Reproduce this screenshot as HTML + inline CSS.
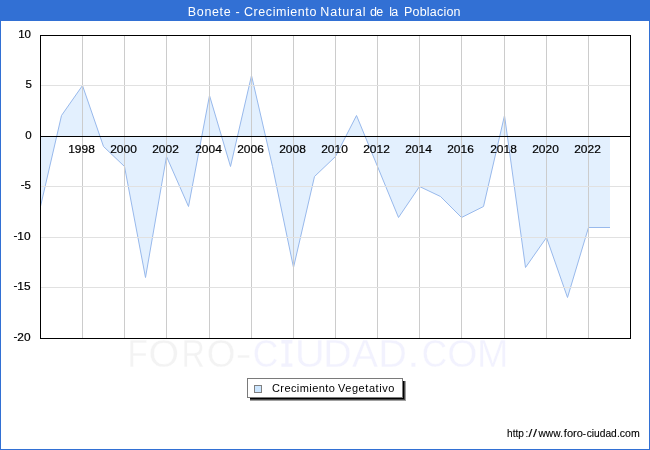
<!DOCTYPE html><html><head><meta charset="utf-8"><style>html,body{margin:0;padding:0;background:#fff;}svg{display:block;will-change:transform}</style></head><body>
<svg width="650" height="450" viewBox="0 0 650 450">
<rect x="0" y="0" width="650" height="450" fill="#fff"/>
<rect x="0" y="0" width="650" height="21" fill="#3270d4"/>
<rect x="0.5" y="0.5" width="649" height="449" fill="none" stroke="#3270d4" stroke-width="1"/>
<text x="187.79" y="16" font-family="Liberation Sans, sans-serif" font-size="12.5" fill="#fff" textLength="42.91" lengthAdjust="spacing">Bonete</text>
<text x="235.56" y="16" font-family="Liberation Sans, sans-serif" font-size="12.5" fill="#fff" textLength="4.77" lengthAdjust="spacing">-</text>
<text x="244.01" y="16" font-family="Liberation Sans, sans-serif" font-size="12.5" fill="#fff" textLength="72.36" lengthAdjust="spacing">Crecimiento</text>
<text x="320.35" y="16" font-family="Liberation Sans, sans-serif" font-size="12.5" fill="#fff" textLength="45.08" lengthAdjust="spacing">Natural</text>
<text x="369.9" y="16" font-family="Liberation Sans, sans-serif" font-size="12.5" fill="#fff" textLength="13.34" lengthAdjust="spacing">de</text>
<text x="389.34" y="16" font-family="Liberation Sans, sans-serif" font-size="12.5" fill="#fff" textLength="8.76" lengthAdjust="spacing">la</text>
<text x="403.94" y="16" font-family="Liberation Sans, sans-serif" font-size="12.5" fill="#fff" textLength="56.59" lengthAdjust="spacing">Poblacion</text>
<polygon points="40.50,136.50 40.50,206.50 61.50,115.50 82.50,85.50 103.50,146.50 124.50,166.50 145.50,277.50 166.50,156.50 188.50,206.50 209.50,95.50 230.50,166.50 251.50,75.50 272.50,166.50 293.50,267.50 314.50,176.50 335.50,156.50 356.50,115.50 377.50,166.50 398.50,217.50 419.50,186.50 440.50,196.50 461.50,217.50 483.50,206.50 504.50,115.50 525.50,267.50 546.50,237.50 567.50,297.50 588.50,227.50 610.00,227.50 610.00,136.50" fill="#e3f0fe" fill-opacity="1.0" stroke="none"/>
<polyline points="40.50,206.50 61.50,115.50 82.50,85.50 103.50,146.50 124.50,166.50 145.50,277.50 166.50,156.50 188.50,206.50 209.50,95.50 230.50,166.50 251.50,75.50 272.50,166.50 293.50,267.50 314.50,176.50 335.50,156.50 356.50,115.50 377.50,166.50 398.50,217.50 419.50,186.50 440.50,196.50 461.50,217.50 483.50,206.50 504.50,115.50 525.50,267.50 546.50,237.50 567.50,297.50 588.50,227.50 609.50,227.50" fill="none" stroke="#98b9ec" stroke-width="1" stroke-linejoin="round" stroke-linecap="square"/>
<line x1="82.5" y1="35" x2="82.5" y2="338" stroke="#cccccc" stroke-opacity="1.0" stroke-width="1"/>
<line x1="124.5" y1="35" x2="124.5" y2="338" stroke="#cccccc" stroke-opacity="1.0" stroke-width="1"/>
<line x1="166.5" y1="35" x2="166.5" y2="338" stroke="#cccccc" stroke-opacity="1.0" stroke-width="1"/>
<line x1="209.5" y1="35" x2="209.5" y2="338" stroke="#cccccc" stroke-opacity="1.0" stroke-width="1"/>
<line x1="251.5" y1="35" x2="251.5" y2="338" stroke="#cccccc" stroke-opacity="1.0" stroke-width="1"/>
<line x1="293.5" y1="35" x2="293.5" y2="338" stroke="#cccccc" stroke-opacity="1.0" stroke-width="1"/>
<line x1="335.5" y1="35" x2="335.5" y2="338" stroke="#cccccc" stroke-opacity="1.0" stroke-width="1"/>
<line x1="377.5" y1="35" x2="377.5" y2="338" stroke="#cccccc" stroke-opacity="1.0" stroke-width="1"/>
<line x1="419.5" y1="35" x2="419.5" y2="338" stroke="#cccccc" stroke-opacity="1.0" stroke-width="1"/>
<line x1="461.5" y1="35" x2="461.5" y2="338" stroke="#cccccc" stroke-opacity="1.0" stroke-width="1"/>
<line x1="504.5" y1="35" x2="504.5" y2="338" stroke="#cccccc" stroke-opacity="1.0" stroke-width="1"/>
<line x1="546.5" y1="35" x2="546.5" y2="338" stroke="#cccccc" stroke-opacity="1.0" stroke-width="1"/>
<line x1="588.5" y1="35" x2="588.5" y2="338" stroke="#cccccc" stroke-opacity="1.0" stroke-width="1"/>
<line x1="40" y1="85.5" x2="630" y2="85.5" stroke="#e1e1e1" stroke-opacity="1.0" stroke-width="1"/>
<line x1="40" y1="186.5" x2="630" y2="186.5" stroke="#e1e1e1" stroke-opacity="1.0" stroke-width="1"/>
<line x1="40" y1="237.5" x2="630" y2="237.5" stroke="#e1e1e1" stroke-opacity="1.0" stroke-width="1"/>
<line x1="40" y1="287.5" x2="630" y2="287.5" stroke="#e1e1e1" stroke-opacity="1.0" stroke-width="1"/>
<line x1="40" y1="136.5" x2="631" y2="136.5" stroke="#000" stroke-width="1"/>
<rect x="40.5" y="35.5" width="590" height="303" fill="none" stroke="#000" stroke-width="1"/>
<text x="31" y="37.5" font-family="Liberation Sans, sans-serif" font-size="11.5" fill="#000" stroke="#000" stroke-width="0.2" text-anchor="end">10</text>
<text x="32" y="87.5" font-family="Liberation Sans, sans-serif" font-size="11.5" fill="#000" stroke="#000" stroke-width="0.2" text-anchor="end">5</text>
<text x="31.7" y="138.5" font-family="Liberation Sans, sans-serif" font-size="11.5" fill="#000" stroke="#000" stroke-width="0.2" text-anchor="end">0</text>
<text x="31" y="188.5" font-family="Liberation Sans, sans-serif" font-size="11.5" fill="#000" stroke="#000" stroke-width="0.2" text-anchor="end"><tspan dy="-1">-</tspan><tspan dy="1">5</tspan></text>
<text x="30.6" y="239.5" font-family="Liberation Sans, sans-serif" font-size="11.5" fill="#000" stroke="#000" stroke-width="0.2" text-anchor="end" textLength="17.2" lengthAdjust="spacingAndGlyphs"><tspan dy="-1">-</tspan><tspan dy="1">10</tspan></text>
<text x="30.6" y="289.5" font-family="Liberation Sans, sans-serif" font-size="11.5" fill="#000" stroke="#000" stroke-width="0.2" text-anchor="end" textLength="17.2" lengthAdjust="spacingAndGlyphs"><tspan dy="-1">-</tspan><tspan dy="1">15</tspan></text>
<text x="30.6" y="340.5" font-family="Liberation Sans, sans-serif" font-size="11.5" fill="#000" stroke="#000" stroke-width="0.2" text-anchor="end" textLength="17.2" lengthAdjust="spacingAndGlyphs"><tspan dy="-1">-</tspan><tspan dy="1">20</tspan></text>
<text x="81.50" y="153" font-family="Liberation Sans, sans-serif" font-size="11.5" fill="#000" stroke="#000" stroke-width="0.2" text-anchor="middle" textLength="26.6" lengthAdjust="spacingAndGlyphs">1998</text>
<text x="123.50" y="153" font-family="Liberation Sans, sans-serif" font-size="11.5" fill="#000" stroke="#000" stroke-width="0.2" text-anchor="middle" textLength="26.6" lengthAdjust="spacingAndGlyphs">2000</text>
<text x="165.50" y="153" font-family="Liberation Sans, sans-serif" font-size="11.5" fill="#000" stroke="#000" stroke-width="0.2" text-anchor="middle" textLength="26.6" lengthAdjust="spacingAndGlyphs">2002</text>
<text x="208.50" y="153" font-family="Liberation Sans, sans-serif" font-size="11.5" fill="#000" stroke="#000" stroke-width="0.2" text-anchor="middle" textLength="26.6" lengthAdjust="spacingAndGlyphs">2004</text>
<text x="250.50" y="153" font-family="Liberation Sans, sans-serif" font-size="11.5" fill="#000" stroke="#000" stroke-width="0.2" text-anchor="middle" textLength="26.6" lengthAdjust="spacingAndGlyphs">2006</text>
<text x="292.50" y="153" font-family="Liberation Sans, sans-serif" font-size="11.5" fill="#000" stroke="#000" stroke-width="0.2" text-anchor="middle" textLength="26.6" lengthAdjust="spacingAndGlyphs">2008</text>
<text x="334.50" y="153" font-family="Liberation Sans, sans-serif" font-size="11.5" fill="#000" stroke="#000" stroke-width="0.2" text-anchor="middle" textLength="26.6" lengthAdjust="spacingAndGlyphs">2010</text>
<text x="376.50" y="153" font-family="Liberation Sans, sans-serif" font-size="11.5" fill="#000" stroke="#000" stroke-width="0.2" text-anchor="middle" textLength="26.6" lengthAdjust="spacingAndGlyphs">2012</text>
<text x="418.50" y="153" font-family="Liberation Sans, sans-serif" font-size="11.5" fill="#000" stroke="#000" stroke-width="0.2" text-anchor="middle" textLength="26.6" lengthAdjust="spacingAndGlyphs">2014</text>
<text x="460.50" y="153" font-family="Liberation Sans, sans-serif" font-size="11.5" fill="#000" stroke="#000" stroke-width="0.2" text-anchor="middle" textLength="26.6" lengthAdjust="spacingAndGlyphs">2016</text>
<text x="503.50" y="153" font-family="Liberation Sans, sans-serif" font-size="11.5" fill="#000" stroke="#000" stroke-width="0.2" text-anchor="middle" textLength="26.6" lengthAdjust="spacingAndGlyphs">2018</text>
<text x="545.50" y="153" font-family="Liberation Sans, sans-serif" font-size="11.5" fill="#000" stroke="#000" stroke-width="0.2" text-anchor="middle" textLength="26.6" lengthAdjust="spacingAndGlyphs">2020</text>
<text x="587.50" y="153" font-family="Liberation Sans, sans-serif" font-size="11.5" fill="#000" stroke="#000" stroke-width="0.2" text-anchor="middle" textLength="26.6" lengthAdjust="spacingAndGlyphs">2022</text>
<text x="127.58" y="366.8" font-family="Liberation Sans, sans-serif" font-size="38.5" fill="#f3f3f3" stroke="#fff" stroke-width="0.35" textLength="20.25" lengthAdjust="spacingAndGlyphs">F</text>
<text x="148.43" y="366.8" font-family="Liberation Sans, sans-serif" font-size="38.5" fill="#f3f3f3" stroke="#fff" stroke-width="0.35" textLength="30.65" lengthAdjust="spacingAndGlyphs">O</text>
<text x="181.55" y="366.8" font-family="Liberation Sans, sans-serif" font-size="38.5" fill="#f3f3f3" stroke="#fff" stroke-width="0.35" textLength="23.35" lengthAdjust="spacingAndGlyphs">R</text>
<text x="206.85" y="366.8" font-family="Liberation Sans, sans-serif" font-size="38.5" fill="#f3f3f3" stroke="#fff" stroke-width="0.35" textLength="28.72" lengthAdjust="spacingAndGlyphs">O</text>
<text x="235.55" y="366.8" font-family="Liberation Sans, sans-serif" font-size="38.5" fill="#f3f3f3" stroke="#fff" stroke-width="0.35" textLength="16.1" lengthAdjust="spacingAndGlyphs">-</text>
<text x="252.8" y="366.8" font-family="Liberation Sans, sans-serif" font-size="38.5" fill="#f2f2fe" stroke="#fff" stroke-width="0.35" textLength="25.54" lengthAdjust="spacingAndGlyphs">C</text>
<path d="M281.4,340.1H292.4V343.40000000000003H288.54999999999995V363.5H292.4V366.8H281.4V363.5H285.25V343.40000000000003H281.4Z" fill="#f2f2fe"/>
<text x="294.87" y="366.8" font-family="Liberation Sans, sans-serif" font-size="38.5" fill="#f2f2fe" stroke="#fff" stroke-width="0.35" textLength="30.27" lengthAdjust="spacingAndGlyphs">U</text>
<text x="323.37" y="366.8" font-family="Liberation Sans, sans-serif" font-size="38.5" fill="#f2f2fe" stroke="#fff" stroke-width="0.35" textLength="28.41" lengthAdjust="spacingAndGlyphs">D</text>
<text x="352.12" y="366.8" font-family="Liberation Sans, sans-serif" font-size="38.5" fill="#f2f2fe" stroke="#fff" stroke-width="0.35" textLength="26.05" lengthAdjust="spacingAndGlyphs">A</text>
<text x="378.25" y="366.8" font-family="Liberation Sans, sans-serif" font-size="38.5" fill="#f2f2fe" stroke="#fff" stroke-width="0.35" textLength="28.65" lengthAdjust="spacingAndGlyphs">D</text>
<text x="406.79" y="366.8" font-family="Liberation Sans, sans-serif" font-size="38.5" fill="#f2f2fe" stroke="#fff" stroke-width="0.35" textLength="13.42" lengthAdjust="spacingAndGlyphs">.</text>
<text x="421.71" y="366.8" font-family="Liberation Sans, sans-serif" font-size="38.5" fill="#f2f2fe" stroke="#fff" stroke-width="0.35" textLength="25.43" lengthAdjust="spacingAndGlyphs">C</text>
<text x="447.36" y="366.8" font-family="Liberation Sans, sans-serif" font-size="38.5" fill="#f2f2fe" stroke="#fff" stroke-width="0.35" textLength="30.2" lengthAdjust="spacingAndGlyphs">O</text>
<text x="476.91" y="366.8" font-family="Liberation Sans, sans-serif" font-size="38.5" fill="#f2f2fe" stroke="#fff" stroke-width="0.35" textLength="31.38" lengthAdjust="spacingAndGlyphs">M</text>
<rect x="250" y="381" width="156" height="20" fill="#a0a0a0"/>
<rect x="250" y="381" width="155" height="19" fill="#4a4a4a"/>
<rect x="250" y="381" width="154" height="18" fill="#000"/>
<rect x="247.5" y="378.5" width="155" height="19" fill="#fff" stroke="#7a7a7a" stroke-width="1"/>
<rect x="254.5" y="385.5" width="7" height="7" fill="#cce6ff" stroke="#808080" stroke-width="1"/>
<text x="272.0" y="392" font-family="Liberation Sans, sans-serif" font-size="11" fill="#000" stroke="#000" stroke-width="0" textLength="62.79" lengthAdjust="spacing">Crecimiento</text>
<text x="337.95" y="392" font-family="Liberation Sans, sans-serif" font-size="11" fill="#000" stroke="#000" stroke-width="0" textLength="56.45" lengthAdjust="spacing">Vegetativo</text>
<text x="507.1" y="437" font-family="Liberation Sans, sans-serif" font-size="10" fill="#000" stroke="#000" stroke-width="0.1" textLength="16.82" lengthAdjust="spacingAndGlyphs">http</text>
<text x="526.85" y="437" font-family="Liberation Sans, sans-serif" font-size="10" fill="#000" text-anchor="middle">:</text>
<text x="528.4" y="437" font-family="Liberation Sans, sans-serif" font-size="10" fill="#000" stroke="#000" stroke-width="0.1" textLength="3.8" lengthAdjust="spacingAndGlyphs">/</text>
<text x="533.0" y="437" font-family="Liberation Sans, sans-serif" font-size="10" fill="#000" stroke="#000" stroke-width="0.1" textLength="4.0" lengthAdjust="spacingAndGlyphs">/</text>
<text x="538.51" y="437" font-family="Liberation Sans, sans-serif" font-size="10" fill="#000" stroke="#000" stroke-width="0.1" textLength="21.96" lengthAdjust="spacingAndGlyphs">www</text>
<text x="561.55" y="437" font-family="Liberation Sans, sans-serif" font-size="10" fill="#000" text-anchor="middle">.</text>
<text x="563.84" y="437" font-family="Liberation Sans, sans-serif" font-size="10" fill="#000" stroke="#000" stroke-width="0.1" textLength="19.12" lengthAdjust="spacingAndGlyphs">foro</text>
<text x="582.66" y="437" font-family="Liberation Sans, sans-serif" font-size="10" fill="#000" stroke="#000" stroke-width="0.1" textLength="3.27" lengthAdjust="spacingAndGlyphs">-</text>
<text x="586.67" y="437" font-family="Liberation Sans, sans-serif" font-size="10" fill="#000" stroke="#000" stroke-width="0.1" textLength="30.09" lengthAdjust="spacingAndGlyphs">ciudad</text>
<text x="618.45" y="437" font-family="Liberation Sans, sans-serif" font-size="10" fill="#000" text-anchor="middle">.</text>
<text x="619.85" y="437" font-family="Liberation Sans, sans-serif" font-size="10" fill="#000" stroke="#000" stroke-width="0.1" textLength="19.94" lengthAdjust="spacingAndGlyphs">com</text>
</svg></body></html>
